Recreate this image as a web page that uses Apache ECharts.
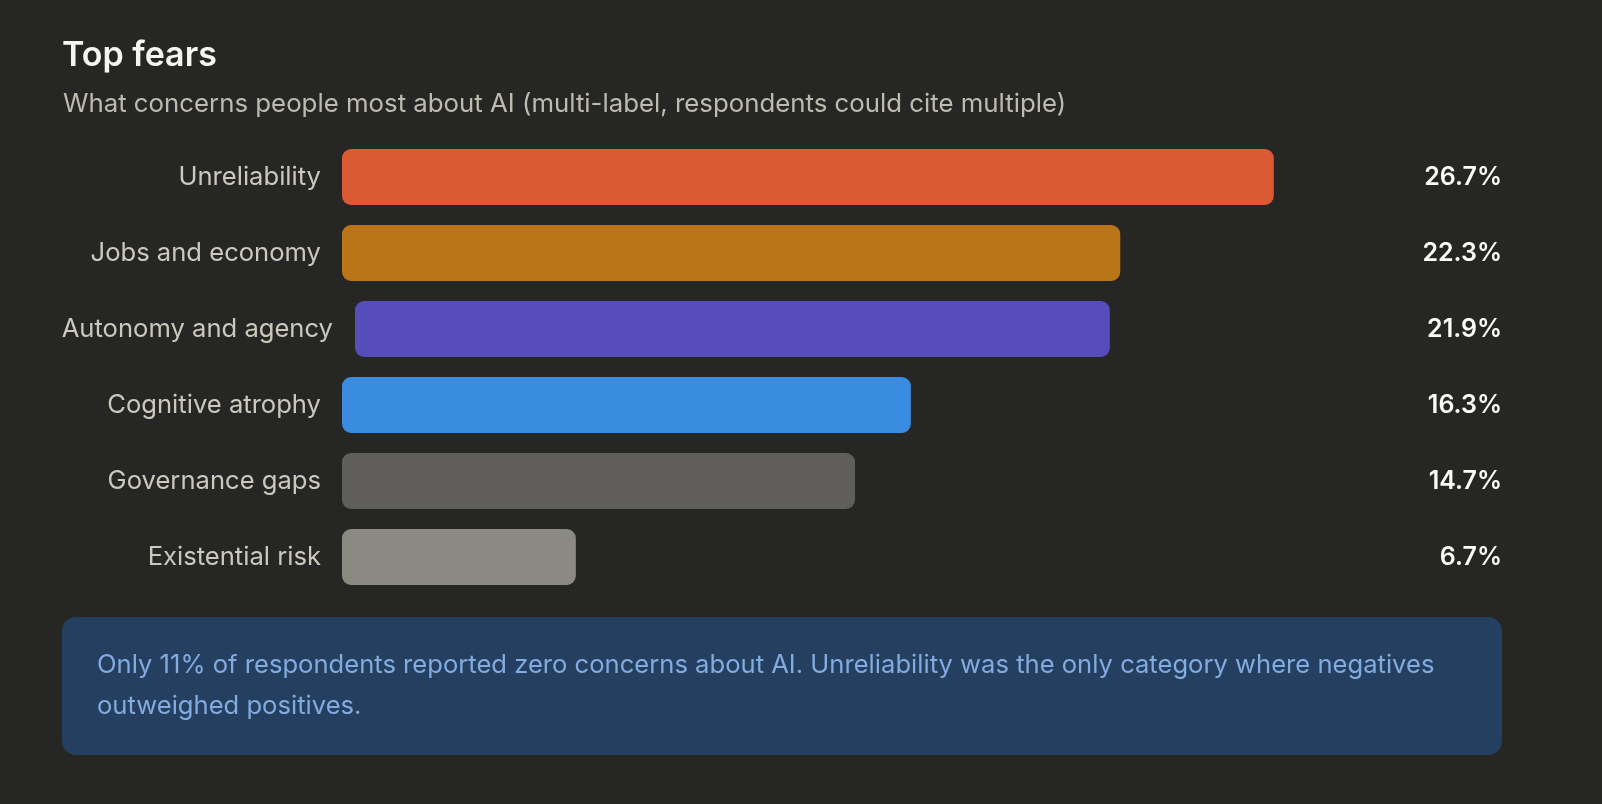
<!DOCTYPE html>
<html>
<head>
<meta charset="utf-8">
<script src="https://cdn.jsdelivr.net/npm/echarts@6/dist/echarts.min.js"></script>
<style>
html,body{margin:0;padding:0;background:#262624;}
#chart{width:1602px;height:804px;}
</style>
</head>
<body>
<div id="chart"></div>
<script>
const categories = ['Unreliability', 'Jobs and economy', 'Autonomy and agency', 'Cognitive atrophy', 'Governance gaps', 'Existential risk'];
const values = [26.7, 22.3, 21.9, 16.3, 14.7, 6.7];
const barColors = ['#d95a33', '#ba7519', '#564dbb', '#3a8ce0', '#5f5e5a', '#8a8a82'];
const axisMax = 30;
const titleText = 'Top fears';
const subtitleText = 'What concerns people most about AI (multi-label, respondents could cite multiple)';
const noteText = 'Only 11% of respondents reported zero concerns about AI. Unreliability was the only category where negatives\noutweighed positives.';

const FONT = 'Inter, "Noto Sans", sans-serif';
const TXT = 25.6;
const chart = echarts.init(document.getElementById('chart'));

const rowTop = 139, rowPitch = 76;
const grids = [], xAxes = [], yAxes = [], series = [];
categories.forEach((cat, i) => {
  const longLabel = cat === 'Autonomy and agency';
  grids.push({left: longLabel ? 355 : 342, right: 213, top: rowTop + i * rowPitch, height: rowPitch, containLabel: false});
  xAxes.push({type: 'value', gridIndex: i, min: 0, max: axisMax, show: false});
  yAxes.push({
    type: 'category', gridIndex: i, data: [cat], position: 'left',
    axisLine: {show: false}, axisTick: {show: false}, splitLine: {show: false},
    axisLabel: {margin: longLabel ? 22 : 21, color: '#cbc8be', fontSize: TXT, fontFamily: FONT, padding: [5, 0, 0, 0]}
  });
  yAxes.push({
    type: 'category', gridIndex: i, data: [values[i].toFixed(1) + '%'], position: 'right',
    axisLine: {show: false}, axisTick: {show: false}, splitLine: {show: false},
    axisLabel: {margin: 113, align: 'right', color: '#fafaf6', fontSize: 25, fontWeight: 600, fontFamily: FONT, padding: [5, 0, 0, 0]}
  });
  series.push({
    type: 'bar', xAxisIndex: i, yAxisIndex: i * 2, data: [values[i]],
    barWidth: 56, itemStyle: {color: barColors[i], borderRadius: 9}, silent: true
  });
});

chart.setOption({
  backgroundColor: '#262624',
  animation: false,
  title: [
    {text: titleText, left: 57, top: 34, textStyle: {color: '#f5f4ef', fontSize: 34, fontWeight: 600, fontFamily: FONT}},
    {text: subtitleText, left: 58, top: 86, textStyle: {color: '#bdbab0', fontSize: 25.8, fontWeight: 400, fontFamily: FONT}}
  ],
  grid: grids,
  xAxis: xAxes,
  yAxis: yAxes,
  series: series,
  graphic: [
    {type: 'rect', shape: {x: 62, y: 617, width: 1440, height: 138, r: 14}, style: {fill: '#243f5f'}, silent: true},
    {type: 'text', x: 97, y: 645, style: {text: noteText, fill: '#82abdf', fontSize: TXT, lineHeight: 41, fontFamily: FONT, verticalAlign: 'top'}, silent: true}
  ]
});
</script>
</body>
</html>
